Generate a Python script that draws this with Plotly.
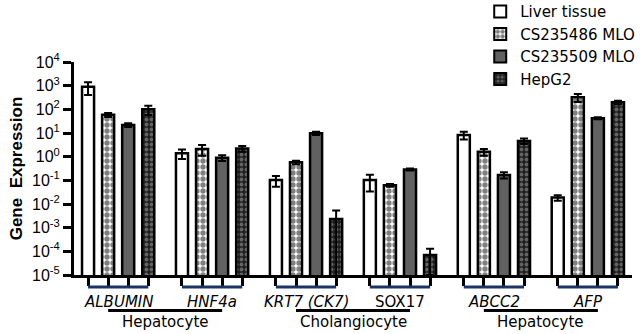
import plotly.graph_objects as go

genes = ["ALBUMIN", "HNF4a", "KRT7 (CK7)", "SOX17", "ABCC2", "AFP"]
gene_italic = [True, True, True, False, True, True]
series = ["Liver tissue", "CS235486 MLO", "CS235509 MLO", "HepG2"]

liver = [900, 1.4, 0.104, 0.104, 8.3, 0.0186]
liver_err = [500, 0.6, 0.05, 0.07, 3.0, 0.005]
cs486 = [59, 2.1, 0.58, 0.062, 1.6, 324]
cs486_err = [11, 1.0, 0.1, 0.008, 0.5, 120]
cs509 = [22, 0.91, 9.7, 0.29, 0.17, 42]
cs509_err = [4, 0.25, 1.5, 0.03, 0.05, 4]
hepg2 = [100, 2.2, 0.0023, 7e-5, 4.6, 198]
hepg2_err = [42, 0.6, 0.003, 6e-5, 1.2, 35]

values = [liver, cs486, cs509, hepg2]
errors = [liver_err, cs486_err, cs509_err, hepg2_err]

cell_groups = [("Hepatocyte", 0, 1), ("Cholangiocyte", 2, 3), ("Hepatocyte", 4, 5)]

ytick_vals = [10.0 ** k for k in range(-5, 5)]
ytick_text = ["10<sup>%d</sup>" % k for k in range(-5, 5)]

GROUP_STEP = 4.68
n_series = len(series)


def pos(g, i):
    return g * GROUP_STEP + i


styles = [
    dict(color="white", pattern=None),
    dict(color="white", pattern=dict(shape=".", fgcolor="black", bgcolor="white", size=6, solidity=0.62, fillmode="overlay")),
    dict(color="#616161", pattern=None),
    dict(color="#9a9a9a", pattern=dict(shape=".", fgcolor="#a8a8a8", bgcolor="#1e1e1e", size=5, solidity=0.45, fillmode="overlay")),
]

fig = go.Figure()
for i, name in enumerate(series):
    xs = [pos(g, i) for g in range(len(genes))]
    marker = dict(color=styles[i]["color"], line=dict(color="black", width=2.5))
    if styles[i]["pattern"] is not None:
        marker["pattern"] = styles[i]["pattern"]
    fig.add_trace(go.Bar(
        x=xs, y=values[i], name=name, width=0.6, marker=marker,
        error_y=dict(type="data", array=errors[i], visible=True, color="black", thickness=2, width=4),
    ))

all_ticks = [pos(g, i) for g in range(len(genes)) for i in range(n_series)]
x_max = pos(len(genes) - 1, n_series - 1)

shapes = []
annotations = []
for g, gname in enumerate(genes):
    x0, x1 = pos(g, 0), pos(g, n_series - 1)
    shapes.append(dict(type="line", xref="x", yref="paper", x0=x0, x1=x1, y0=-0.056, y1=-0.056,
                       line=dict(color="#1b3466", width=3)))
    txt = "<i>%s</i>" % gname if gene_italic[g] else gname
    annotations.append(dict(x=(x0 + x1) / 2, y=-0.127, xref="x", yref="paper", text=txt, showarrow=False,
                            font=dict(family="DejaVu Sans", size=15, color="black"), xanchor="center", yanchor="middle"))
for label, ga, gb in cell_groups:
    x0, x1 = pos(ga, 1), pos(gb, 2)
    shapes.append(dict(type="line", xref="x", yref="paper", x0=x0, x1=x1, y0=-0.167, y1=-0.167,
                       line=dict(color="black", width=3)))
    annotations.append(dict(x=(x0 + x1) / 2, y=-0.222, xref="x", yref="paper", text=label, showarrow=False,
                            font=dict(family="DejaVu Sans", size=15, color="black"), xanchor="center", yanchor="middle"))

fig.update_layout(
    template="none",
    width=640, height=334,
    margin=dict(l=74, r=8, t=62, b=59, autoexpand=False),
    paper_bgcolor="white", plot_bgcolor="white",
    barmode="overlay",
    showlegend=True,
    legend=dict(x=0.728, y=1.313, xanchor="left", yanchor="top", bgcolor="rgba(0,0,0,0)",
                font=dict(family="DejaVu Sans", size=15, color="black"), tracegroupgap=0, itemsizing="constant"),
    shapes=shapes, annotations=annotations,
    xaxis=dict(range=[-0.7, x_max + 0.7], tickvals=all_ticks, ticktext=[""] * len(all_ticks),
               ticks="outside", ticklen=8, tickwidth=3, tickcolor="black",
               showline=True, linewidth=3, linecolor="black", showgrid=False, zeroline=False, fixedrange=True),
    yaxis=dict(type="log", range=[-5, 4], tickvals=ytick_vals, ticktext=ytick_text,
               ticks="outside", ticklen=8, tickwidth=3, tickcolor="black",
               showline=True, linewidth=3, linecolor="black", showgrid=False, zeroline=False,
               tickfont=dict(family="Liberation Sans, Arial", size=16, color="black"),
               title=dict(text="<b>Gene\u00a0 Expression</b>", font=dict(family="Liberation Sans, Arial", size=17, color="black"), standoff=6),
               automargin=False),
)

fig.write_html("out.html")
